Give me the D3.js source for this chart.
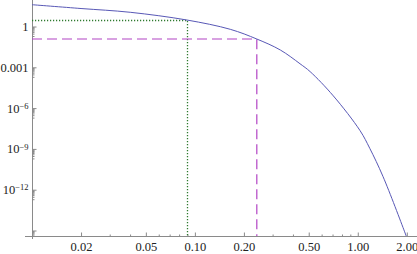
<!DOCTYPE html>
<html>
<head>
<meta charset="utf-8">
<script src="https://cdn.jsdelivr.net/npm/d3@7"></script>
<style>
  body { margin: 0; background: #fff; }
  svg { display: block; }
  .tick text { font-family: "Liberation Serif", "DejaVu Serif", serif; font-size: 12.5px; fill: #222; }
  .tick line, .axisLine { stroke: #8a8a8a; stroke-width: 1; }
</style>
</head>
<body>
<div id="chart"></div>
<script>
// curve
var curveX = [0.01, 0.02, 0.0401, 0.0893, 0.165, 0.24, 0.335, 0.442, 0.51, 0.708, 1.033, 1.185, 1.43, 1.94, 2.0];
var curveY = [40.1, 21, 11.1, 3.0, 0.62, 0.12, 0.0186, 0.00182, 4.8e-4, 7.9e-6, 2.2e-8, 1.1e-9, 9.1e-12, 8e-16, 3e-16];

// marker lines
var dottedPoint = [0.0897, 3.0];
var dashedPoint = [0.24, 0.12];

var xTickValues = [0.02, 0.05, 0.1, 0.2, 0.5, 1, 2];
var xTickLabels = ["0.02", "0.05", "0.10", "0.20", "0.50", "1.00", "2.00"];
var xMinorTicks = [0.03, 0.04, 0.06, 0.07, 0.08, 0.09, 0.3, 0.4, 0.6, 0.7, 0.8, 0.9];

var yTickValues = [1, 1e-3, 1e-6, 1e-9, 1e-12, 1e-15];
var yTickLabels = [["1", ""], ["0.001", ""], ["10", "\u22126"], ["10", "\u22129"], ["10", "\u221212"], ["", ""]];
var yMinorMult = [0.2, 0.3, 0.4, 0.5, 0.6, 0.7, 0.8, 0.9];

var width = 417, height = 254;
var axisX = 32, axisY = 236;

var svg = d3.select("#chart").append("svg")
    .attr("width", width)
    .attr("height", height);

var xScale = d3.scaleLog().domain([0.01, 2]).range([axisX, 406.8]);
var yScale = d3.scaleLog().domain([1e-15, 1]).range([230.5, 26.5]);

function px(v) { return Math.round(v) + 0.5; }

svg.append("defs").append("clipPath").attr("id", "plotClip")
    .append("rect").attr("x", axisX).attr("y", 0).attr("width", width - axisX).attr("height", axisY);

// axis lines
svg.append("line").attr("class", "axisLine")
    .attr("x1", 25).attr("x2", width).attr("y1", axisY + 0.5).attr("y2", axisY + 0.5);
svg.append("line").attr("class", "axisLine")
    .attr("x1", axisX + 0.5).attr("x2", axisX + 0.5).attr("y1", 0).attr("y2", 239);

// x axis
var xAxis = svg.append("g")
    .attr("transform", "translate(0," + (axisY + 0.5) + ")")
    .call(d3.axisBottom(xScale)
        .tickValues(xTickValues)
        .tickFormat(function (d, i) { return xTickLabels[i]; })
        .tickSize(-4)
        .tickPadding(6));
xAxis.select(".domain").remove();

var xMinor = svg.append("g")
    .attr("transform", "translate(0," + (axisY + 0.5) + ")")
    .call(d3.axisBottom(xScale).tickValues(xMinorTicks).tickFormat("").tickSize(-2));
xMinor.select(".domain").remove();

// y axis
var yAxis = svg.append("g")
    .attr("transform", "translate(" + (axisX + 0.5) + ",0)")
    .call(d3.axisLeft(yScale)
        .tickValues(yTickValues)
        .tickFormat("")
        .tickSize(-4)
        .tickPadding(4));
yAxis.select(".domain").remove();

yAxis.selectAll(".tick text").each(function (d, i) {
    var t = d3.select(this);
    t.text(null);
    t.append("tspan").text(yTickLabels[i][0]);
    if (yTickLabels[i][1]) {
        t.append("tspan")
            .attr("dy", "-0.45em")
            .style("font-size", "8.5px")
            .text(yTickLabels[i][1]);
    }
});

var yMinorValues = [];
yTickValues.forEach(function (v) {
    yMinorMult.forEach(function (m) { yMinorValues.push(v * m); });
});
var yMinor = svg.append("g")
    .attr("transform", "translate(" + (axisX + 0.5) + ",0)")
    .call(d3.axisLeft(yScale).tickValues(yMinorValues.filter(function (v) { return v > 3e-16; }))
        .tickFormat("").tickSize(-2));
yMinor.select(".domain").remove();

// marker lines
svg.append("path")
    .attr("d", "M" + axisX + "," + px(yScale(dottedPoint[1])) + "H" + px(xScale(dottedPoint[0])) + "V" + axisY)
    .attr("fill", "none")
    .attr("stroke", "#2f7a2f")
    .attr("stroke-width", 1.3)
    .attr("stroke-dasharray", "1.2,1.8");

svg.append("path")
    .attr("d", "M" + axisX + "," + yScale(dashedPoint[1]) + "H" + xScale(dashedPoint[0]) + "V" + axisY)
    .attr("fill", "none")
    .attr("stroke", "#b244c4")
    .attr("stroke-width", 1.2)
    .attr("stroke-dasharray", "10,5");

// curve
var line = d3.line()
    .x(function (d) { return xScale(d[0]); })
    .y(function (d) { return yScale(d[1]); })
    .curve(d3.curveCatmullRom.alpha(0.5));

svg.append("path")
    .datum(d3.zip(curveX, curveY))
    .attr("clip-path", "url(#plotClip)")
    .attr("d", line)
    .attr("fill", "none")
    .attr("stroke", "#5858b6")
    .attr("stroke-width", 1);
</script>
</body>
</html>
